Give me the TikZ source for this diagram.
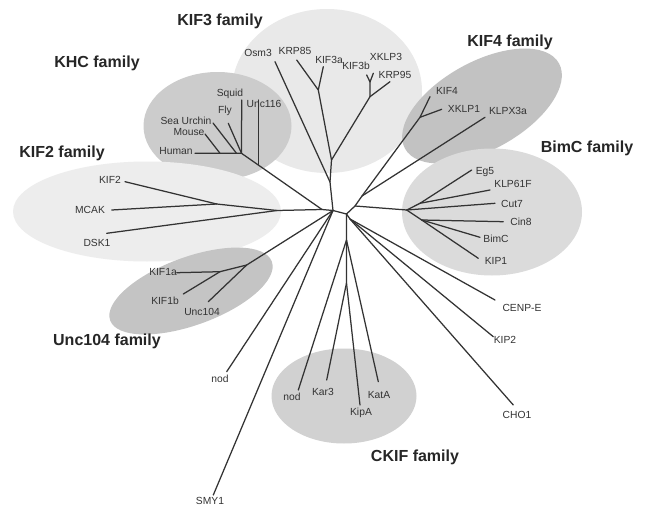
\documentclass[tikz,border=0pt]{standalone}
\usepackage{fontspec}
\setmainfont{Liberation Sans}
\usetikzlibrary{shapes.geometric}
\definecolor{cKIF3}{gray}{0.915}
\definecolor{cKHC}{gray}{0.80}
\definecolor{cKIF4}{gray}{0.76}
\definecolor{cBimC}{gray}{0.86}
\definecolor{cKIF2}{gray}{0.93}
\definecolor{cUnc}{gray}{0.77}
\definecolor{cCKIF}{gray}{0.82}
\definecolor{ink}{gray}{0.2}
\begin{document}
\begin{tikzpicture}[x=1pt,y=-1pt,
  fam/.style={ellipse, inner sep=0pt, draw=none},
  br/.style={draw=ink, line width=1.25pt, line cap=round, line join=round},
  lab/.style={font=\fontsize{10.3}{12}\selectfont, text=ink, inner sep=0pt},
  ttl/.style={font=\bfseries\fontsize{16}{18}\selectfont, text=black!85, inner sep=0pt}]
\useasboundingbox (0,0) rectangle (646,506);
\fill[white] (0,0) rectangle (646,506);
% family ellipses
\node[fam, fill=cKIF3, minimum width=190pt, minimum height=164pt] (kif3e) at (327,91) {};
\node[fam, fill=cKHC, minimum width=148pt, minimum height=108pt] (khce) at (217.5,126) {};
\node[fam, fill=cKIF4, minimum width=176pt, minimum height=88pt, rotate=29] (kif4e) at (482,106) {};
\node[fam, fill=cBimC, minimum width=180pt, minimum height=127pt] (bimce) at (492,212) {};
\node[fam, fill=cKIF2, minimum width=268pt, minimum height=100pt] (kif2e) at (147,211.5) {};
\node[fam, fill=cUnc, minimum width=172pt, minimum height=68pt, rotate=20] (unce) at (191,291) {};
\node[fam, fill=cCKIF, minimum width=145pt, minimum height=95pt] (ckife) at (344,396) {};
% internal nodes
\coordinate (A) at (333,210.5);
\coordinate (B) at (346.5,214);
\coordinate (khcJ) at (322,209.5);
\coordinate (kif2N) at (277,210.5);
\coordinate (kif2a) at (216.7,204);
\coordinate (C1) at (355,206);
\coordinate (C2) at (362,196);
\coordinate (D) at (350,219);
\coordinate (ckifN) at (346.5,240);
\coordinate (ckif2) at (346.5,283);
\coordinate (kif3N) at (330,182);
\coordinate (kif3m) at (331.5,160);
\coordinate (krpN) at (318.3,90);
\coordinate (kif3bN) at (370,96.7);
\coordinate (xklpN) at (370,82);
\coordinate (hJ) at (241.5,153.3);
\coordinate (sJ) at (236.5,153.3);
\coordinate (mJ) at (220,153.3);
\coordinate (uJ) at (258.3,165);
\coordinate (u1) at (220,271.7);
\coordinate (uN) at (246.7,265);
\coordinate (kif4N) at (420,117.3);
\coordinate (bimN) at (406.7,210);
\coordinate (bim1) at (420,203.3);
\coordinate (bim2) at (421.7,220);
% leaf ends
\coordinate (eOsm3) at (275,61.7);
\coordinate (eKRP85) at (296.7,60);
\coordinate (eKIF3a) at (323.3,66.7);
\coordinate (eKIF3b) at (366.7,75);
\coordinate (eXKLP3) at (373.3,73.3);
\coordinate (eKRP95) at (390,81.7);
\coordinate (eHuman) at (195,153.3);
\coordinate (eMouse) at (205,134);
\coordinate (eSea) at (213,123);
\coordinate (eFly) at (228.3,123.3);
\coordinate (eSquid) at (241.7,100);
\coordinate (eUnc116) at (258.3,100);
\coordinate (eKIF2) at (125,181.7);
\coordinate (eMCAK) at (111.7,210);
\coordinate (eDSK1) at (106.7,233.3);
\coordinate (eKIF1a) at (176.7,272.7);
\coordinate (eKIF1b) at (183.3,294);
\coordinate (eUnc104) at (208.3,301.7);
\coordinate (eNod1) at (226.7,371.7);
\coordinate (eSMY1) at (213.3,495);
\coordinate (eNod2) at (298.3,390);
\coordinate (eKar3) at (326.7,380);
\coordinate (eKipA) at (360,405);
\coordinate (eKatA) at (378.3,381.7);
\coordinate (eCENPE) at (495,300);
\coordinate (eKIP2) at (493.3,336.7);
\coordinate (eCHO1) at (513.3,405);
\coordinate (eKIF4) at (430,96.7);
\coordinate (eXKLP1) at (441.7,109.3);
\coordinate (eKLPX3a) at (485,117.3);
\coordinate (eEg5) at (471.7,170);
\coordinate (eKLP61F) at (490,190);
\coordinate (eCut7) at (495,203.3);
\coordinate (eCin8) at (503.3,221.7);
\coordinate (eBimC) at (480,237.3);
\coordinate (eKIP1) at (478.3,258.3);
% branches
\draw[br] (A) -- (B);
\draw[br] (A) -- (kif3N) -- (kif3m) -- (krpN) -- (eKRP85);
\draw[br] (krpN) -- (eKIF3a);
\draw[br] (kif3N) -- (eOsm3);
\draw[br] (kif3m) -- (kif3bN) -- (xklpN) -- (eKIF3b);
\draw[br] (xklpN) -- (eXKLP3);
\draw[br] (kif3bN) -- (eKRP95);
\draw[br] (A) -- (khcJ) -- (kif2N);
\draw[br] (khcJ) -- (uJ) -- (hJ) -- (mJ) -- (eHuman);
\draw[br] (mJ) -- (eMouse);
\draw[br] (sJ) -- (eSea);
\draw[br] (hJ) -- (eFly);
\draw[br] (hJ) -- (eSquid);
\draw[br] (uJ) -- (eUnc116);
\draw[br] (kif2N) -- (kif2a) -- (eMCAK);
\draw[br] (kif2a) -- (eKIF2);
\draw[br] (kif2N) -- (eDSK1);
\draw[br] (A) -- (uN) -- (u1) -- (eKIF1a);
\draw[br] (u1) -- (eKIF1b);
\draw[br] (uN) -- (eUnc104);
\draw[br] (A) -- (eNod1);
\draw[br] (A) -- (eSMY1);
\draw[br] (B) -- (C1) -- (C2) -- (kif4N) -- (eKIF4);
\draw[br] (kif4N) -- (eXKLP1);
\draw[br] (C2) -- (eKLPX3a);
\draw[br] (C1) -- (bimN) -- (bim1) -- (eEg5);
\draw[br] (bim1) -- (eKLP61F);
\draw[br] (bimN) -- (eCut7);
\draw[br] (bimN) -- (bim2) -- (eCin8);
\draw[br] (bim2) -- (eBimC);
\draw[br] (bim2) -- (eKIP1);
\draw[br] (B) -- (ckifN) -- (ckif2) -- (eKar3);
\draw[br] (ckif2) -- (eKipA);
\draw[br] (ckifN) -- (eNod2);
\draw[br] (ckifN) -- (eKatA);
\draw[br] (B) -- (D) -- (eCENPE);
\draw[br] (D) -- (eKIP2);
\draw[br] (D) -- (eCHO1);
% leaf labels
\node[lab] (tOsm3) at (258,53) {Osm3};
\node[lab] (tKRP85) at (295,51) {KRP85};
\node[lab] (tKIF3a) at (329,60) {KIF3a};
\node[lab] (tKIF3b) at (356,66) {KIF3b};
\node[lab] (tXKLP3) at (386,57) {XKLP3};
\node[lab] (tKRP95) at (395,75) {KRP95};
\node[lab] (tHuman) at (176,151) {Human};
\node[lab] (tMouse) at (189,132.5) {Mouse};
\node[lab] (tSea) at (186,121) {Sea Urchin};
\node[lab] (tFly) at (225,111) {Fly};
\node[lab] (tSquid) at (230,94) {Squid};
\node[lab] (tUnc116) at (264,104) {Unc116};
\node[lab] (tKIF2) at (110,180) {KIF2};
\node[lab] (tMCAK) at (90,210) {MCAK};
\node[lab] (tDSK1) at (97,243) {DSK1};
\node[lab] (tKIF1a) at (163,272) {KIF1a};
\node[lab] (tKIF1b) at (165,301) {KIF1b};
\node[lab] (tUnc104) at (202,312) {Unc104};
\node[lab] (tNod1) at (220,379) {nod};
\node[lab] (tSMY1) at (210,501) {SMY1};
\node[lab] (tNod2) at (292,397) {nod};
\node[lab] (tKar3) at (323,392) {Kar3};
\node[lab] (tKipA) at (361,413) {KipA};
\node[lab] (tKatA) at (379,395) {KatA};
\node[lab] (tCENPE) at (522,308) {CENP-E};
\node[lab] (tKIP2) at (505,340) {KIP2};
\node[lab] (tCHO1) at (517,415) {CHO1};
\node[lab] (tKIF4) at (447,91) {KIF4};
\node[lab] (tXKLP1) at (464,109) {XKLP1};
\node[lab] (tKLPX3a) at (508,111) {KLPX3a};
\node[lab] (tEg5) at (485,172) {Eg5};
\node[lab] (tKLP61F) at (513,184) {KLP61F};
\node[lab] (tCut7) at (512,204) {Cut7};
\node[lab] (tCin8) at (521,222) {Cin8};
\node[lab] (tBimC) at (496,239) {BimC};
\node[lab] (tKIP1) at (496,261) {KIP1};
% family titles
\node[ttl] (fKIF3) at (220,21) {KIF3 family};
\node[ttl] (fKHC) at (97,63) {KHC family};
\node[ttl] (fKIF4) at (510,42) {KIF4 family};
\node[ttl] (fBimC) at (587,148) {BimC family};
\node[ttl] (fKIF2) at (62,153) {KIF2 family};
\node[ttl] (fUnc) at (107,341) {Unc104 family};
\node[ttl] (fCKIF) at (415,457) {CKIF family};
\end{tikzpicture}
\end{document}
